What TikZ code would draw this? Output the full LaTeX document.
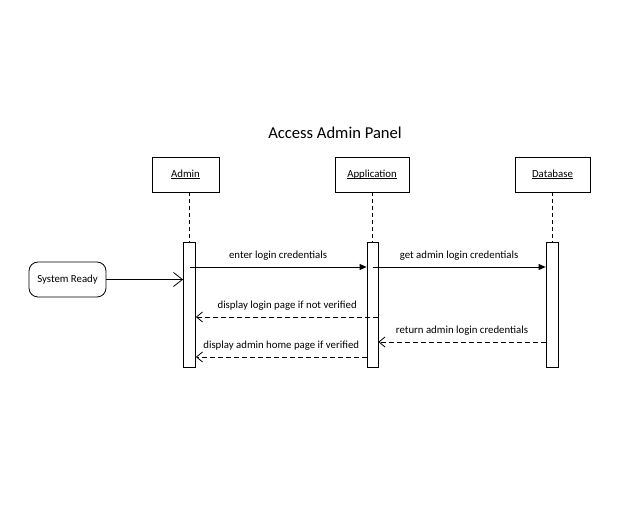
\documentclass[tikz,border=0pt]{standalone}
\usepackage{fontspec}
\setmainfont{Carlito}
\usetikzlibrary{arrows.meta}
\newcommand\ulbl[1]{\underline{\raisebox{0pt}[\height][0pt]{#1}}}
\begin{document}
\begin{tikzpicture}[x=1pt,y=-1pt,
  obj/.style={draw,minimum width=67pt,minimum height=35pt,inner sep=0pt,font=\fontsize{10.8}{12}\selectfont},
  actbar/.style={draw,fill=white,minimum width=12pt,minimum height=125pt,inner sep=0pt},
  life/.style={dashed,dash pattern=on 4pt off 3pt},
  msg/.style={font=\fontsize{10.8}{12}\selectfont},
  sync/.style={-{Triangle[length=7pt,width=6pt]}},
  ret/.style={dashed,dash pattern=on 5pt off 3pt,-{Straight Barb[length=6pt,width=10pt]}},
  line width=0.8pt]
\useasboundingbox (0,0) rectangle (625,518);
\node[font=\fontsize{16.6}{20}\selectfont] (title) at (335,133) {Access Admin Panel};
\node[obj] (admin) at (185.5,174.5) {\ulbl{Admin}};
\node[obj,minimum width=74pt] (app) at (372,174.5) {\ulbl{Application}};
\node[obj,minimum width=75pt] (db) at (552.5,174.5) {\ulbl{Database}};
\node[actbar] (ba) at (189.5,304.5) {};
\node[actbar,minimum width=11pt] (bp) at (372.5,304.5) {};
\node[actbar] (bd) at (552,304.5) {};
\draw[life] (ba.north |- admin.south) -- (ba.north);
\draw[life] (bp.north |- app.south) -- (bp.north);
\draw[life] (bd.north |- db.south) -- (bd.north);
\node[draw,rounded corners=9pt,minimum width=77pt,minimum height=35pt,inner sep=0pt,font=\fontsize{10.8}{12}\selectfont] (sr) at (67.5,279.5) {System Ready};
\draw[-{Straight Barb[length=9pt,width=14pt]}] (sr.east) -- (ba.west |- sr.east);
\coordinate (m1s) at (ba.center |- 0,267);
\draw[sync] (m1s) -- (bp.west |- m1s) node[msg,midway,above=3pt] {enter login credentials};
\coordinate (m2s) at (bp.center |- 0,267);
\draw[sync] (m2s) -- (bd.west |- m2s) node[msg,midway,above=3pt] {get admin login credentials};
\coordinate (m3s) at (bp.east |- 0,317);
\draw[ret] (m3s) -- (ba.east |- m3s) node[msg,midway,above=3pt] {display login page if not verified};
\coordinate (m4s) at (bd.west |- 0,342);
\draw[ret] (m4s) -- (bp.east |- m4s) node[msg,midway,above=3pt] {return admin login credentials};
\coordinate (m5s) at (bp.west |- 0,357);
\draw[ret] (m5s) -- (ba.east |- m5s) node[msg,midway,above=3pt] {display admin home page if verified};
\end{tikzpicture}
\end{document}
